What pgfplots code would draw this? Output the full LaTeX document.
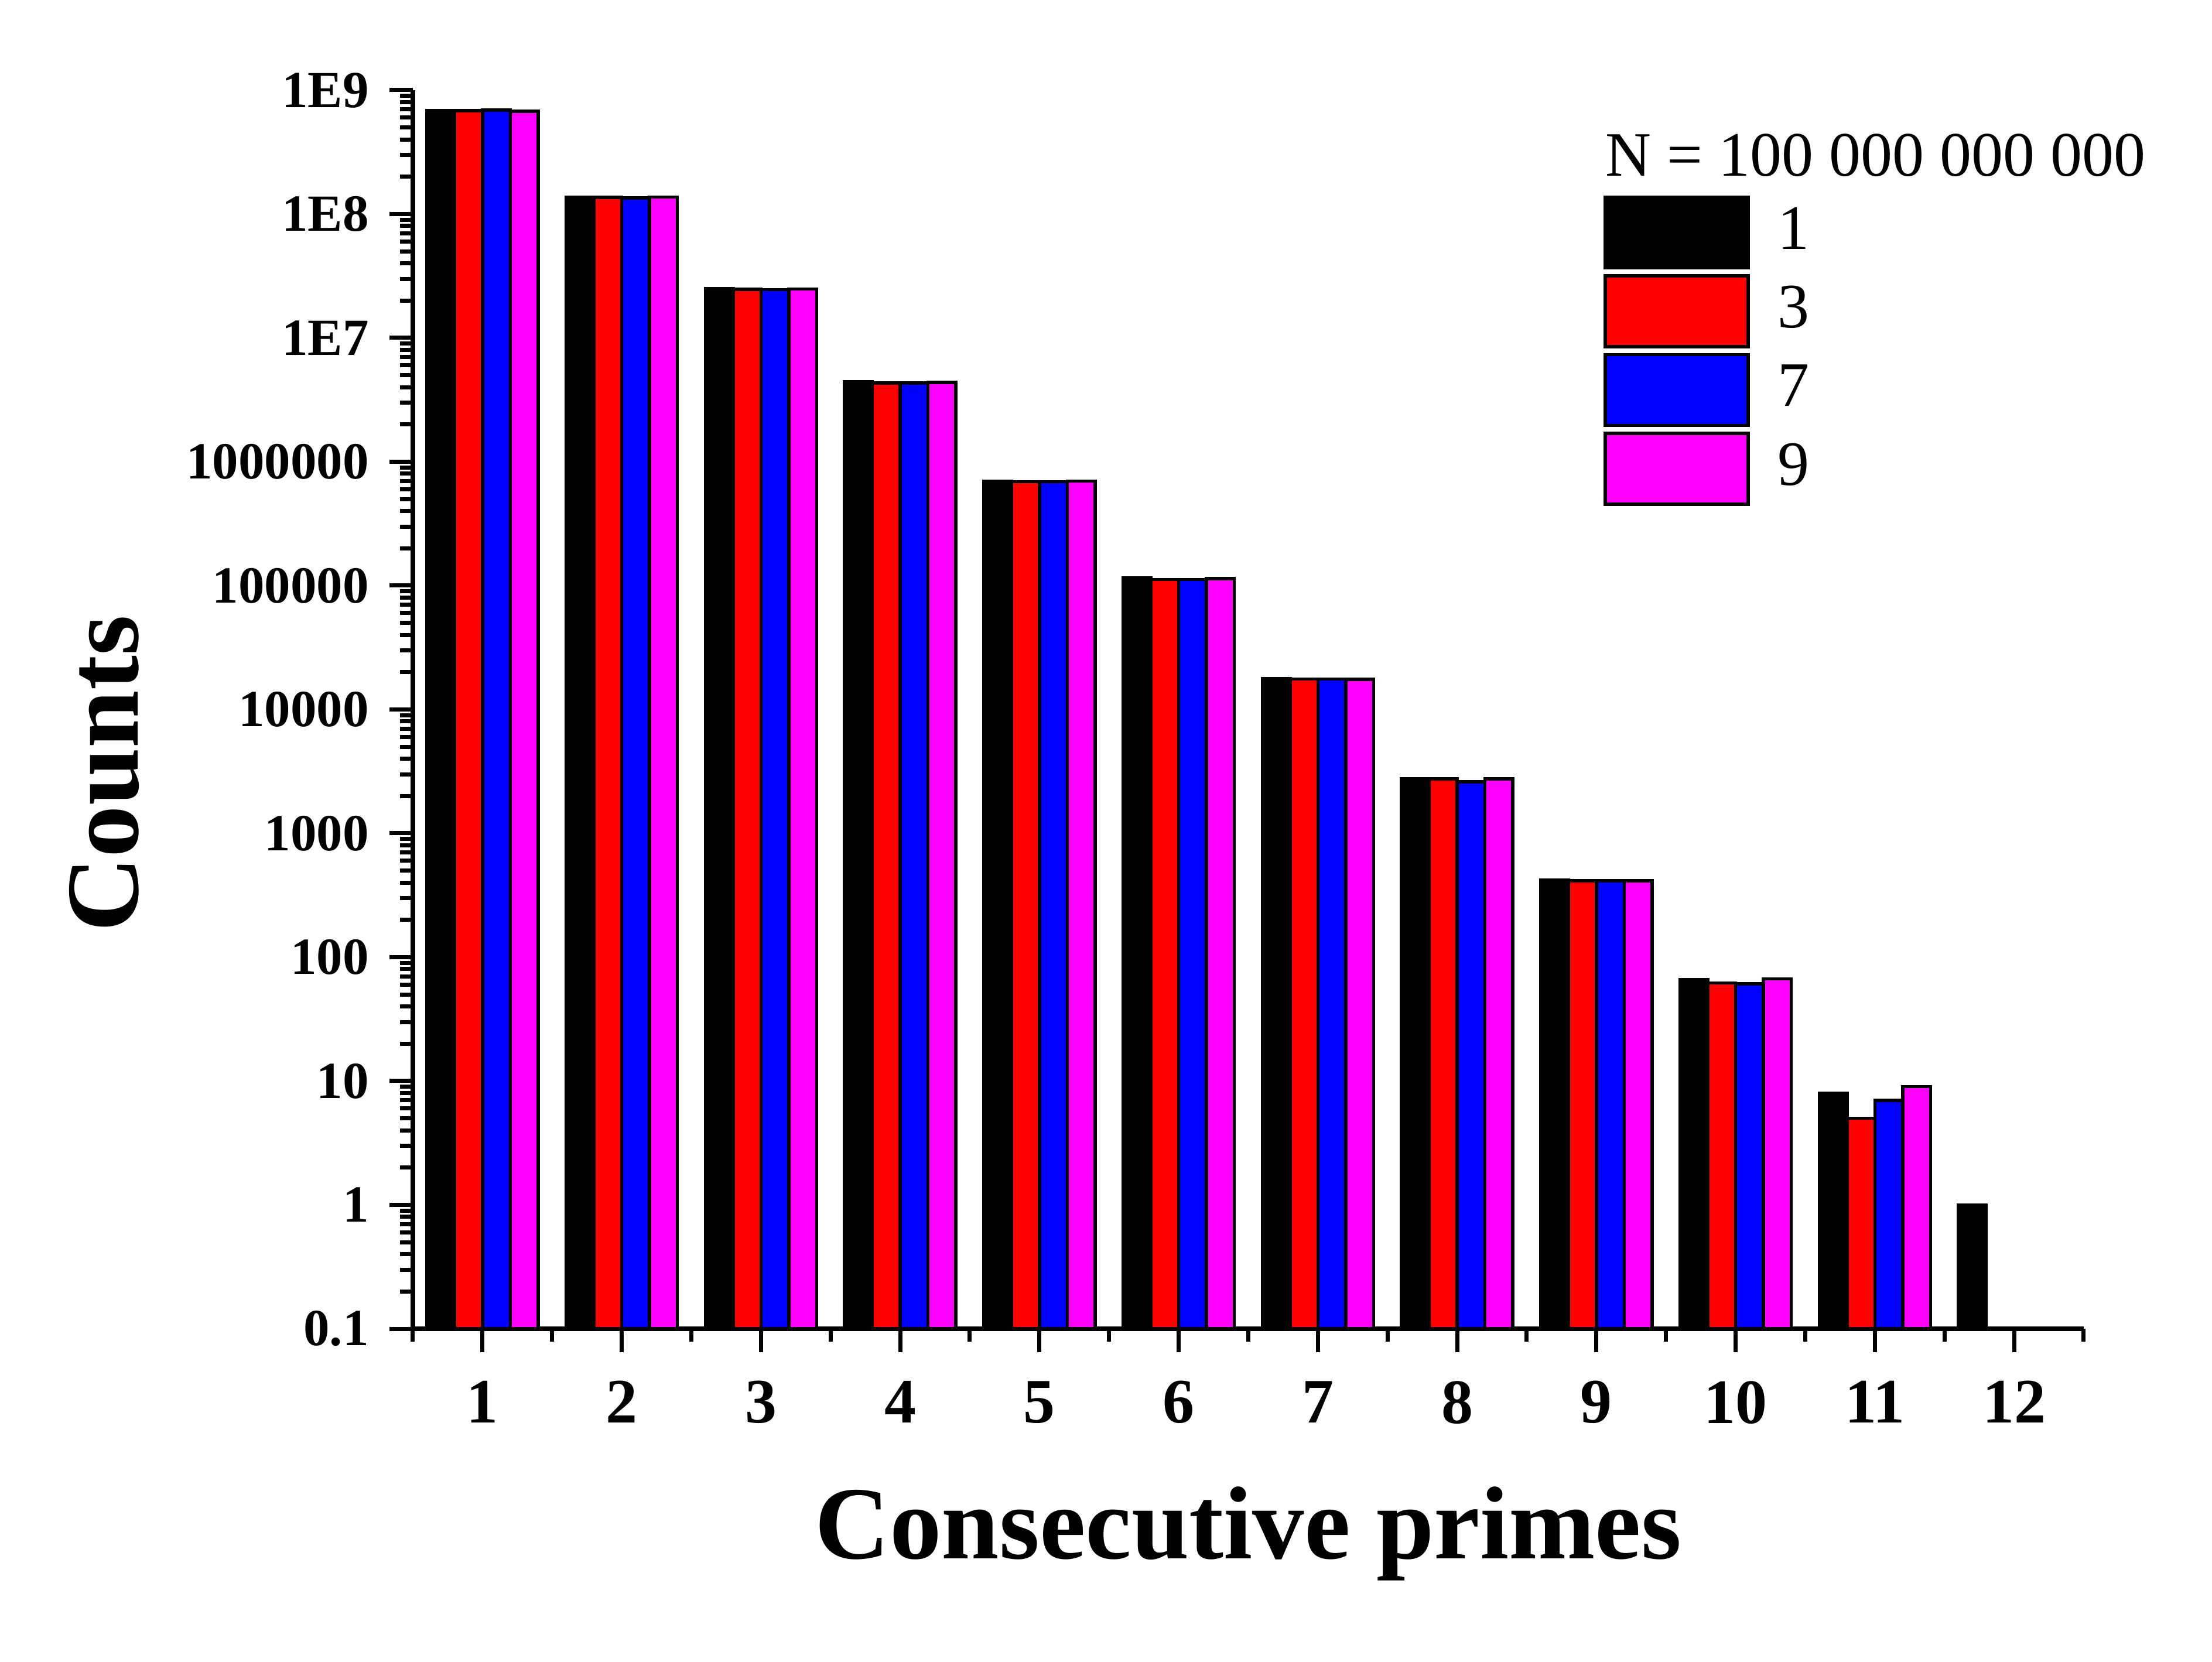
\documentclass[border=0pt]{standalone}
\usepackage{fontspec}
\setmainfont{Liberation Serif}
\usepackage{pgfplots}
\pgfplotsset{compat=1.18}
\definecolor{cred}{RGB}{255,0,0}
\definecolor{cblue}{RGB}{0,0,255}
\definecolor{cmag}{RGB}{255,0,255}
\begin{document}
\begin{tikzpicture}
\path[use as bounding box] (-70.5pt,-56.9pt) rectangle (307.2pt,226.9pt);
\begin{axis}[
  at={(0,0)}, anchor=south west,
  scale only axis, width=285.3pt, height=211.5pt,
  clip mode=individual,
  ymode=log, log origin=infty,
  xmin=0.5, xmax=12.5, ymin=0.1, ymax=1e9,
  axis x line=bottom, axis y line=left,
  axis line style={-, line width=0.8pt},
  tick align=outside,
  major tick length=4pt, minor tick length=2.2pt,
  every tick/.style={black, line width=0.7pt},
  xtick={1,...,12},
  xticklabels={1,2,3,4,5,6,7,8,9,10,11,12},
  minor xtick={0.5,1.5,...,12.5},
  ytick={0.1,1,10,100,1000,10000,100000,1000000,10000000,100000000,1000000000},
  yticklabels={0.1,1,10,100,1000,10000,100000,1000000,1E7,1E8,1E9},
  yticklabel style={font=\bfseries\fontsize{8.9}{11}\selectfont},
  xticklabel style={font=\bfseries\fontsize{10.8}{13}\selectfont, yshift=-1.4pt},
  xlabel={Consecutive primes},
  ylabel={Counts},
  label style={font=\bfseries\fontsize{17.7}{20}\selectfont},
  xlabel style={at={(axis description cs:0.5,-0.1858)}, anchor=base},
  ylabel style={at={(axis description cs:-0.1645,0.448)}, anchor=base, rotate=0},
  ybar, bar width=0.2,
  every axis plot/.append style={draw=black, line width=0.55pt},
  legend image code/.code={\draw[#1] (0pt,-6.05pt) rectangle (24.4pt,6.05pt);},
  legend style={draw=none, fill=none, at={(0.712,0.916)}, anchor=north west,
    inner sep=0pt, row sep=0.8pt, column sep=3.8pt,
    font=\fontsize{10.8}{13}\selectfont, nodes={inner sep=1pt}},
  legend cell align=left,
]
\addplot[fill=black, bar shift=-0.3] coordinates {
(1,6.85e8) (2,1.37e8) (3,2.5e7) (4,4.43e6) (5,7.0e5) (6,1.15e5) (7,1.78e4) (8,2770) (9,420) (10,66) (11,8) (12,1)};
\addlegendentry{1}
\addplot[fill=cred, bar shift=-0.1] coordinates {
(1,6.85e8) (2,1.36e8) (3,2.47e7) (4,4.33e6) (5,6.9e5) (6,1.12e5) (7,1.76e4) (8,2750) (9,415) (10,62) (11,5)};
\addlegendentry{3}
\addplot[fill=cblue, bar shift=0.1] coordinates {
(1,6.9e8) (2,1.35e8) (3,2.45e7) (4,4.33e6) (5,6.9e5) (6,1.12e5) (7,1.76e4) (8,2600) (9,415) (10,61) (11,7)};
\addlegendentry{7}
\addplot[fill=cmag, bar shift=0.3] coordinates {
(1,6.75e8) (2,1.37e8) (3,2.48e7) (4,4.38e6) (5,7.0e5) (6,1.14e5) (7,1.75e4) (8,2750) (9,415) (10,67) (11,9)};
\addlegendentry{9}
\node[anchor=base west, inner sep=0pt, font=\fontsize{10.8}{13}\selectfont] at (rel axis cs:0.713,0.9305) {N = 100 000 000 000};
\end{axis}
\end{tikzpicture}
\end{document}
